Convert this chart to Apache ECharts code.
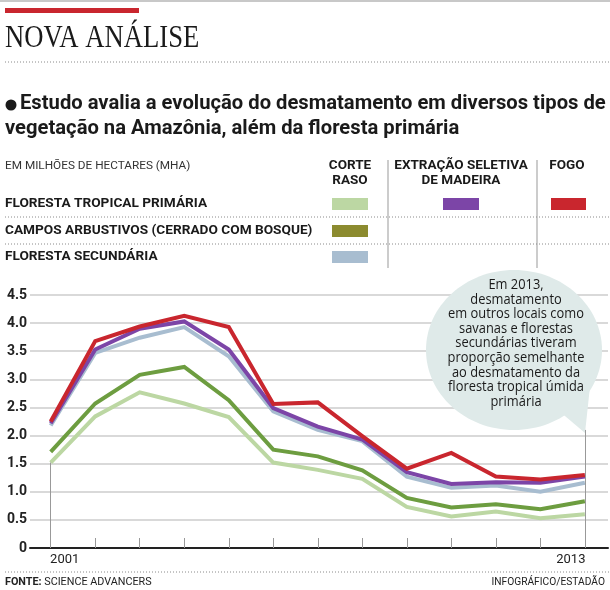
<!DOCTYPE html>
<html><head><meta charset="utf-8">
<script src="https://cdn.jsdelivr.net/npm/echarts@6/dist/echarts.min.js"></script>
<style>html,body{margin:0;padding:0;background:#fff}#c{width:610px;height:590px}</style>
</head><body><div id="c"></div>
<script>
const years = [2001,2002,2003,2004,2005,2006,2007,2008,2009,2010,2011,2012,2013];
const primariaCorteRaso   = [1.52,2.34,2.77,2.57,2.33,1.52,1.39,1.23,0.73,0.56,0.65,0.53,0.60];
const cerradoCorteRaso    = [1.71,2.57,3.08,3.22,2.63,1.75,1.63,1.38,0.89,0.72,0.78,0.69,0.83];
const secundariaCorteRaso = [2.18,3.47,3.74,3.93,3.41,2.43,2.10,1.90,1.27,1.07,1.11,1.00,1.16];
const extracaoSeletiva    = [2.22,3.53,3.90,4.03,3.53,2.49,2.16,1.93,1.35,1.14,1.17,1.16,1.27];
const fogo                = [2.25,3.68,3.94,4.13,3.93,2.56,2.59,1.99,1.41,1.69,1.27,1.22,1.30];
const xLabelYears = [2001, 2013];
const yMin = 0, yMax = 4.5, yStep = 0.5;

const bubbleLines = ['Em 2013,','desmatamento','em outros locais como','savanas e florestas','secundárias tiveram','proporção semelhante','ao desmatamento da','floresta tropical úmida','primária'];

const C = {
  lightGreen:'#bcd7a3', green:'#6d9d40', olive:'#8c8b2f', blue:'#a8bdd0', purple:'#7c45a7', red:'#c9262e'
};

function pairs(arr){ return years.map((y,i)=>[y, arr[i]]); }

const chart = echarts.init(document.getElementById('c'), null, {renderer:'canvas'});

const dotted = (y) => ({type:'line', shape:{x1:5,y1:y,x2:610,y2:y}, style:{stroke:'#8a8a8a', lineWidth:1, lineDash:[1,2]}});
const txt = (x,y,text,font,opts={}) => Object.assign({type:'text', x:x, y:y, style:Object.assign({text:text, font:font, fill:'#1a1a1a', textVerticalAlign:'middle', textAlign:'left'}, opts.style||{})}, opts.el||{});

const graphics = [
  {type:'line', shape:{x1:0,y1:1,x2:610,y2:1}, style:{stroke:'#c8c8c8', lineWidth:2}},
  {type:'rect', shape:{x:5,y:8,width:134,height:5}, style:{fill:'#c9262e'}},
  txt(5, 39, 'NOVA ANÁLISE', '31px "Liberation Serif"', {el:{scaleX:0.86}}),
  dotted(62),
  {type:'circle', shape:{cx:11, cy:105, r:5.5}, style:{fill:'#1a1a1a'}},
  txt(20, 104, 'Estudo avalia a evolução do desmatamento em diversos tipos de', 'bold 20px Roboto', {el:{scaleX:1.01}}),
  txt(5, 129, 'vegetação na Amazônia, além da floresta primária', 'bold 20px Roboto', {el:{scaleX:1.01}}),
  txt(5, 166, 'EM MILHÕES DE HECTARES (MHA)', '11px Roboto', {el:{scaleX:1.07}, style:{fill:'#333'}}),
  txt(350, 166, 'CORTE', 'bold 13px Roboto', {el:{scaleX:1.04}, style:{textAlign:'center'}}),
  txt(350, 181, 'RASO', 'bold 13px Roboto', {el:{scaleX:1.04}, style:{textAlign:'center'}}),
  txt(461, 166, 'EXTRAÇÃO SELETIVA', 'bold 13px Roboto', {el:{scaleX:1.04}, style:{textAlign:'center'}}),
  txt(461, 181, 'DE MADEIRA', 'bold 13px Roboto', {el:{scaleX:1.04}, style:{textAlign:'center'}}),
  txt(567, 166, 'FOGO', 'bold 13px Roboto', {el:{scaleX:1.04}, style:{textAlign:'center'}}),
  {type:'line', shape:{x1:388,y1:160,x2:388,y2:268}, style:{stroke:'#999', lineWidth:1}},
  {type:'line', shape:{x1:537,y1:160,x2:537,y2:268}, style:{stroke:'#999', lineWidth:1}},
  txt(5, 204, 'FLORESTA TROPICAL PRIMÁRIA', 'bold 13px Roboto', {el:{scaleX:1.05}}),
  txt(5, 231, 'CAMPOS ARBUSTIVOS (CERRADO COM BOSQUE)', 'bold 13px Roboto', {el:{scaleX:1.05}}),
  txt(5, 257, 'FLORESTA SECUNDÁRIA', 'bold 13px Roboto', {el:{scaleX:1.05}}),
  dotted(217),
  dotted(244),
  {type:'rect', shape:{x:332,y:198,width:36,height:12}, style:{fill:C.lightGreen}},
  {type:'rect', shape:{x:443,y:198,width:36,height:12}, style:{fill:C.purple}},
  {type:'rect', shape:{x:551,y:198,width:35,height:12}, style:{fill:C.red}},
  {type:'rect', shape:{x:332,y:225,width:36,height:12}, style:{fill:C.olive}},
  {type:'rect', shape:{x:332,y:251,width:36,height:12}, style:{fill:C.blue}},
  // bubble
  {type:'ellipse', z:5, shape:{cx:514, cy:350, rx:88, ry:80}, style:{fill:'#dfeae9'}},
  {type:'polygon', z:5, shape:{points:[[552,405],[585,433],[592,368]]}, style:{fill:'#dfeae9'}},
  dotted(572),
  {type:'text', x:5, y:582, scaleX:0.98, style:{text:'{b|FONTE:} SCIENCE ADVANCERS', font:'11px Roboto', fill:'#222', textVerticalAlign:'middle', rich:{b:{font:'bold 11px Roboto', fill:'#222'}}}},
  {type:'text', x:605, y:582, scaleX:0.93, style:{text:'INFOGRÁFICO/ESTADÃO', font:'11px Roboto', fill:'#222', textVerticalAlign:'middle', textAlign:'right'}}
];
bubbleLines.forEach((l,i)=>{
  graphics.push({type:'text', z:6, x:516, y:285+i*14.6, scaleX:0.92, style:{text:l, font:'14px "Open Sans"', fill:'#1a1a1a', textAlign:'center', textVerticalAlign:'middle'}});
});

const lineSeries = (name, data, color, z) => ({
  name, type:'line', data:pairs(data), symbol:'none', z:z,
  lineStyle:{color, width:4, join:'miter'}, itemStyle:{color}, silent:true
});

const option = {
  animation:false,
  grid:{left:30, right:2, top:295, bottom:42, containLabel:false},
  xAxis:{
    type:'value', min:2000.535, max:2013.52,
    axisLine:{show:true, onZero:false, lineStyle:{color:'#222', width:2}},
    axisTick:{show:true, inside:true, length:10, customValues:years, lineStyle:{color:'#999', width:1}},
    axisLabel:{show:true, customValues:xLabelYears, margin:5, color:'#222', font:'13px Roboto',
      formatter:(v)=> v===2001 ? '{a|2001}' : '{b|2013}',
      rich:{a:{padding:[0,0,0,28], fontSize:13, fontFamily:'Roboto', color:'#222'}, b:{padding:[0,28,0,0], fontSize:13, fontFamily:'Roboto', color:'#222'}}},
    splitLine:{show:false}
  },
  yAxis:{
    type:'value', min:yMin, max:yMax, interval:yStep,
    axisLine:{show:false}, axisTick:{show:false},
    axisLabel:{margin:3, color:'#222', fontWeight:'bold', fontSize:14, fontFamily:'Roboto',
      formatter:(v)=> v===0 ? '0' : v.toFixed(1)},
    splitLine:{lineStyle:{color:'#cdcdcd', width:1.5}}
  },
  series:[
    Object.assign(lineSeries('Floresta tropical primária – corte raso', primariaCorteRaso, C.lightGreen, 2), {
      markLine:{silent:true, symbol:'none', label:{show:false}, lineStyle:{color:'#999', width:1, type:'solid'},
        data:[[{coord:[2001,0]},{coord:[2001,primariaCorteRaso[0]]}], [{coord:[2013,0]},{coord:[2013,2.1]}]]}
    }),
    lineSeries('Campos arbustivos – corte raso', cerradoCorteRaso, C.green, 3),
    lineSeries('Floresta secundária – corte raso', secundariaCorteRaso, C.blue, 4),
    lineSeries('Extração seletiva de madeira', extracaoSeletiva, C.purple, 5),
    lineSeries('Fogo', fogo, C.red, 6)
  ],
  graphic:{elements:graphics}
};
chart.setOption(option);
</script></body></html>
